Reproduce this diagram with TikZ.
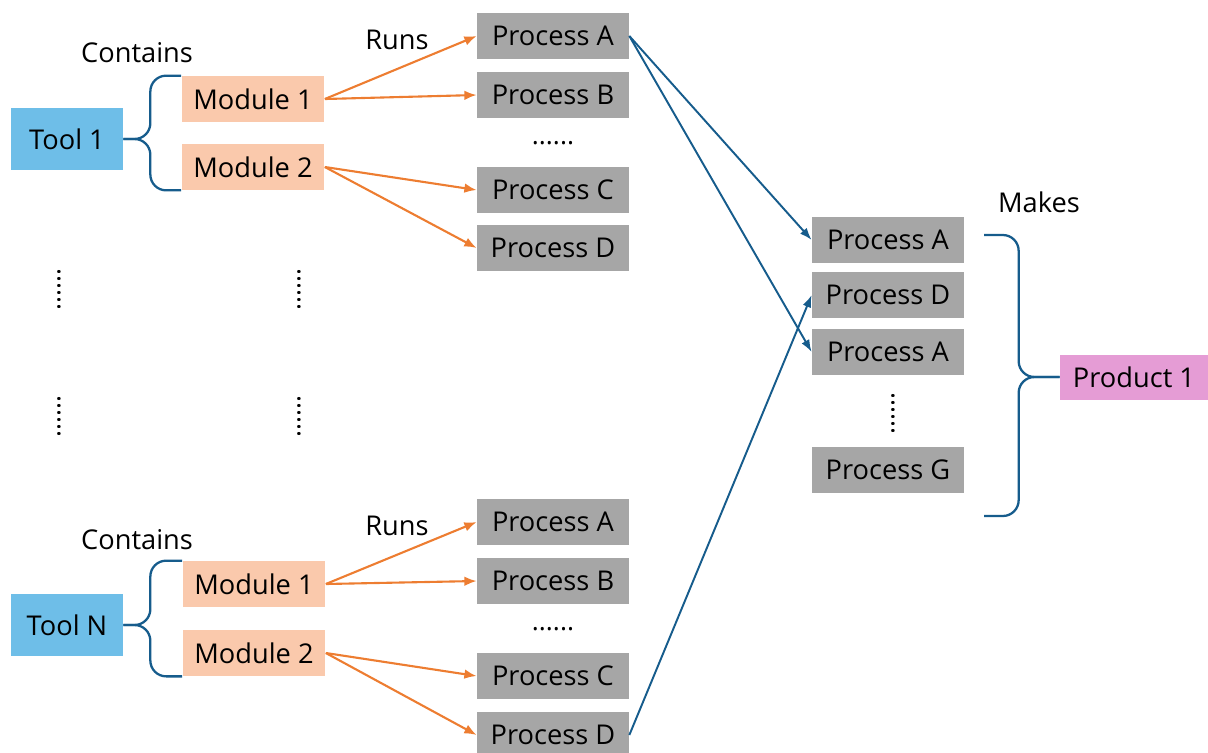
\documentclass[tikz,border=0pt]{standalone}
\usepackage{fontspec}
\setmainfont{Open Sans}
\usepackage{tikz}
\usetikzlibrary{arrows.meta}
\definecolor{toolblue}{RGB}{110,190,232}
\definecolor{modpeach}{RGB}{250,201,172}
\definecolor{procgray}{RGB}{166,166,166}
\definecolor{prodpink}{RGB}{229,156,213}
\definecolor{runorange}{RGB}{237,125,49}
\definecolor{linkblue}{RGB}{22,92,140}

\begin{document}
\begin{tikzpicture}[x=0.02cm,y=-0.02cm]
\tikzset{box/.style = {inner sep=0pt,font=\fontsize{15.5}{17}\selectfont}}
\tikzset{tool/.style = {box,fill=toolblue,minimum width=2.24cm,minimum height=1.24cm}}
\tikzset{module/.style = {box,fill=modpeach,minimum width=2.86cm,minimum height=0.92cm}}
\tikzset{process/.style = {box,fill=procgray,minimum width=3.04cm,minimum height=0.92cm}}
\tikzset{product/.style = {box,fill=prodpink,minimum width=2.96cm,minimum height=0.9cm}}
\tikzset{label/.style = {font=\fontsize{15.5}{17}\selectfont}}
\tikzset{dots/.style = {font=\fontsize{15}{17}\selectfont}}
\tikzset{runs/.style = {->,> = {Latex[length=7pt,width=5.5pt]},draw=runorange,line width=1.2pt}}
\tikzset{link/.style = {->,> = {Latex[length=7pt,width=5pt]},draw=linkblue,line width=1.1pt}}
\tikzset{brace/.style = {draw=linkblue,line width=1.3pt,rounded corners=9}}
\useasboundingbox (0,0) rectangle (1208,752);
% tool 1
\node[tool] (t1) at (67,139) {Tool 1};
\node[module] (m11) at (253,99) {Module 1};
\node[module] (m12) at (253,167) {Module 2};
\node[process] (p1a) at (553,36) {Process A};
\node[process] (p1b) at (553,95) {Process B};
\node[dots] (d1) at (553,143) {......};
\node[process] (p1c) at (553,190) {Process C};
\node[process] (p1d) at (553,248) {Process D};
\node[label] (c1) at (137,53) {Contains};
\node[label] (r1) at (397,40) {Runs};
% gap
\node[dots,rotate=90] (v1) at (59,289) {......};
\node[dots,rotate=90] (v2) at (299,289) {......};
\node[dots,rotate=90] (v3) at (59,416) {......};
\node[dots,rotate=90] (v4) at (299,416) {......};
% tool N
\node[tool] (tn) at (67,625) {Tool N};
\node[module] (mn1) at (254,584) {Module 1};
\node[module] (mn2) at (254,653) {Module 2};
\node[process] (pna) at (553,522) {Process A};
\node[process] (pnb) at (553,581) {Process B};
\node[dots] (dn) at (553,629) {......};
\node[process] (pnc) at (553,676) {Process C};
\node[process] (pnd) at (553,735) {Process D};
\node[label] (cn) at (137,540) {Contains};
\node[label] (rn) at (397,526) {Runs};
% product
\node[process] (qa) at (888,240) {Process A};
\node[process] (qd) at (888,295) {Process D};
\node[process] (qa2) at (888,352) {Process A};
\node[dots,rotate=90] (dq) at (893,413) {......};
\node[process] (qg) at (888,470) {Process G};
\node[product] (pr) at (1134,377) {Product 1};
\node[label] (mk) at (1039,202) {Makes};
\coordinate (btop) at (984,235);
\coordinate (bbot) at (984,516);
% braces
\draw[brace] (t1.east) -- ++(27,0) |- (m11.north west);
\draw[brace] (t1.east) -- ++(27,0) |- (m12.south west);
\draw[brace] (tn.east) -- ++(27,0) |- (mn1.north west);
\draw[brace] (tn.east) -- ++(27,0) |- (mn2.south west);
\draw[brace] (pr.west) -- ++(-41,0) |- (btop);
\draw[brace] (pr.west) -- ++(-41,0) |- (bbot);
%edges
\draw[runs] (m11.east) to (p1a.west);
\draw[runs] (m11.east) to (p1b.west);
\draw[runs] (m12.east) to (p1c.west);
\draw[runs] (m12.east) to (p1d.west);
\draw[runs] (mn1.east) to (pna.west);
\draw[runs] (mn1.east) to (pnb.west);
\draw[runs] (mn2.east) to (pnc.west);
\draw[runs] (mn2.east) to (pnd.west);
\draw[link] (p1a.east) to (qa.west);
\draw[link] (p1a.east) to (qa2.west);
\draw[link] (pnd.east) to (qd.west);
\end{tikzpicture}
\end{document}
